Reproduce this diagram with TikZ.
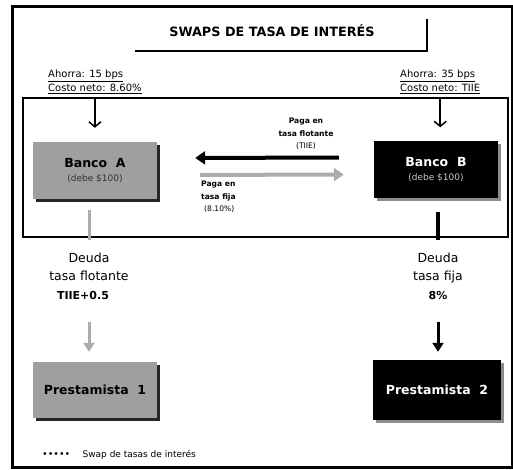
\documentclass[tikz,border=0pt]{standalone}
\usepackage{fontspec}
\setmainfont{DejaVu Sans}
\usetikzlibrary{positioning,shadows,arrows.meta}

\begin{document}
\begin{tikzpicture}[%
    x=1pt, y=-1pt,
    >=Stealth,
    banco/.style={%
      rectangle,
      minimum width=124pt,
      minimum height=57pt,
      align=center
    },
    bancogris/.style={%
      banco,
      fill=gray!75,
      drop shadow={shadow xshift=3pt, shadow yshift=-3pt, opacity=1, fill=black!85}
    },
    banconegro/.style={%
      banco,
      fill=black,
      text=white,
      drop shadow={shadow xshift=3pt, shadow yshift=-3pt, opacity=1, fill=black!45}
    },
    ahorro/.style={font=\fontsize{10}{14}\selectfont, align=left, inner sep=1pt},
    deuda/.style={font=\fontsize{12.5}{18.5}\selectfont, align=center, inner sep=1pt},
    paga/.style={font=\fontsize{7.6}{12.5}\selectfont\bfseries, inner sep=1pt},
    flechita/.style={-{Straight Barb[length=5pt,width=12pt]}, line width=1.5pt},
    gruesa/.style={line width=4pt, -{Triangle[length=10pt,width=13pt]}},
    bajada/.style={line width=3pt, -{Triangle[length=9pt,width=11pt]}}
  ]
    \useasboundingbox (0,0) rectangle (513,470);

    % marcos
    \draw[line width=3pt] (12,7) rectangle (512,467);
    \draw[line width=2.5pt] (23,98) rectangle (508,237);

    % titulo
    \node[font=\fontsize{12.8}{15}\selectfont\bfseries] (titulo) at (272,31) {SWAPS DE TASA DE INTER\'ES};
    \draw[line width=2.5pt] (135,51) -- (427,51) -- (427,19);

    % bancos
    \node[bancogris] (A) at (95,170.5) {{\fontsize{12.5}{15}\selectfont\bfseries Banco\ \ A}\\[2pt]{\fontsize{9}{11}\selectfont\color{black!80}(debe \$100)}};
    \node[banconegro] (B) at (436,170) {{\fontsize{12.5}{15}\selectfont\bfseries Banco\ \ B}\\[2pt]{\fontsize{9}{11}\selectfont\color{gray!45}(debe \$100)}};
    \node[bancogris, minimum height=56pt] (pA) at (95,390) {\fontsize{12.5}{15}\selectfont\bfseries Prestamista\ \ 1};
    \node[banconegro, minimum width=128pt, minimum height=60pt] (pB) at (437,390) {\fontsize{12.5}{15}\selectfont\bfseries Prestamista\ \ 2};

    % ahorros
    \node[ahorro, anchor=north west] (LA) at (47,69) {\underline{Ahorra: 15 bps}\\\underline{Costo neto: 8.60\%}};
    \node[ahorro, anchor=north west] (LB) at (399,69) {\underline{Ahorra: 35 bps}\\\underline{Costo neto: TIIE}};
    \draw[flechita, shorten <=3pt, shorten >=14pt] (LA.south) -- (LA.south |- A.north);
    \draw[flechita, shorten <=3pt, shorten >=14pt] (LB.south) -- (LB.south |- B.north);

    % swap
    \node[paga, align=center] (pf) at (306,134) {Paga en\\tasa flotante\\{\mdseries (TIIE)}};
    \node[paga, align=left, anchor=north west] (pj) at (200,180) {Paga en\\tasa fija\\\hspace*{3pt}{\mdseries (8.10\%)}};
    \draw[gruesa, shorten <=35pt, shorten >=38pt] ([yshift=12.5pt]B.west) -- ([yshift=12.5pt]A.east);
    \draw[gruesa, gray!65, shorten <=43pt, shorten >=30pt] ([yshift=-4.5pt]A.east) -- ([yshift=-4.5pt]B.west);

    % deudas
    \node[deuda] (dA) at (89,276) {Deuda\\tasa flotante\\{\bfseries\fontsize{11}{18.5}\selectfont TIIE+0.5}\hspace*{12pt}};
    \node[deuda] (dB) at (438,276) {Deuda\\tasa fija\\{\bfseries\fontsize{11}{18.5}\selectfont 8\%}};
    \draw[line width=3pt, gray!65, shorten <=11pt, shorten >=11pt] (dA.north |- A.south) -- (dA.north);
    \draw[line width=3.5pt, shorten <=13pt, shorten >=11pt] (dB.north |- B.south) -- (dB.north);
    \draw[bajada, gray!65, shorten <=21pt, shorten >=10pt] (dA.south) -- (dA.south |- pA.north);
    \draw[bajada, shorten <=21pt, shorten >=8pt] (dB.south) -- (dB.south |- pB.north);

    % leyenda
    \node[anchor=west, font=\fontsize{9.5}{10}\selectfont, inner sep=0pt] (pts) at (42,455) {•••••};
    \node[right=12pt of pts, font=\fontsize{9}{11}\selectfont, inner sep=0pt] (ley) {Swap de tasas de inter\'es};
\end{tikzpicture}
\end{document}
